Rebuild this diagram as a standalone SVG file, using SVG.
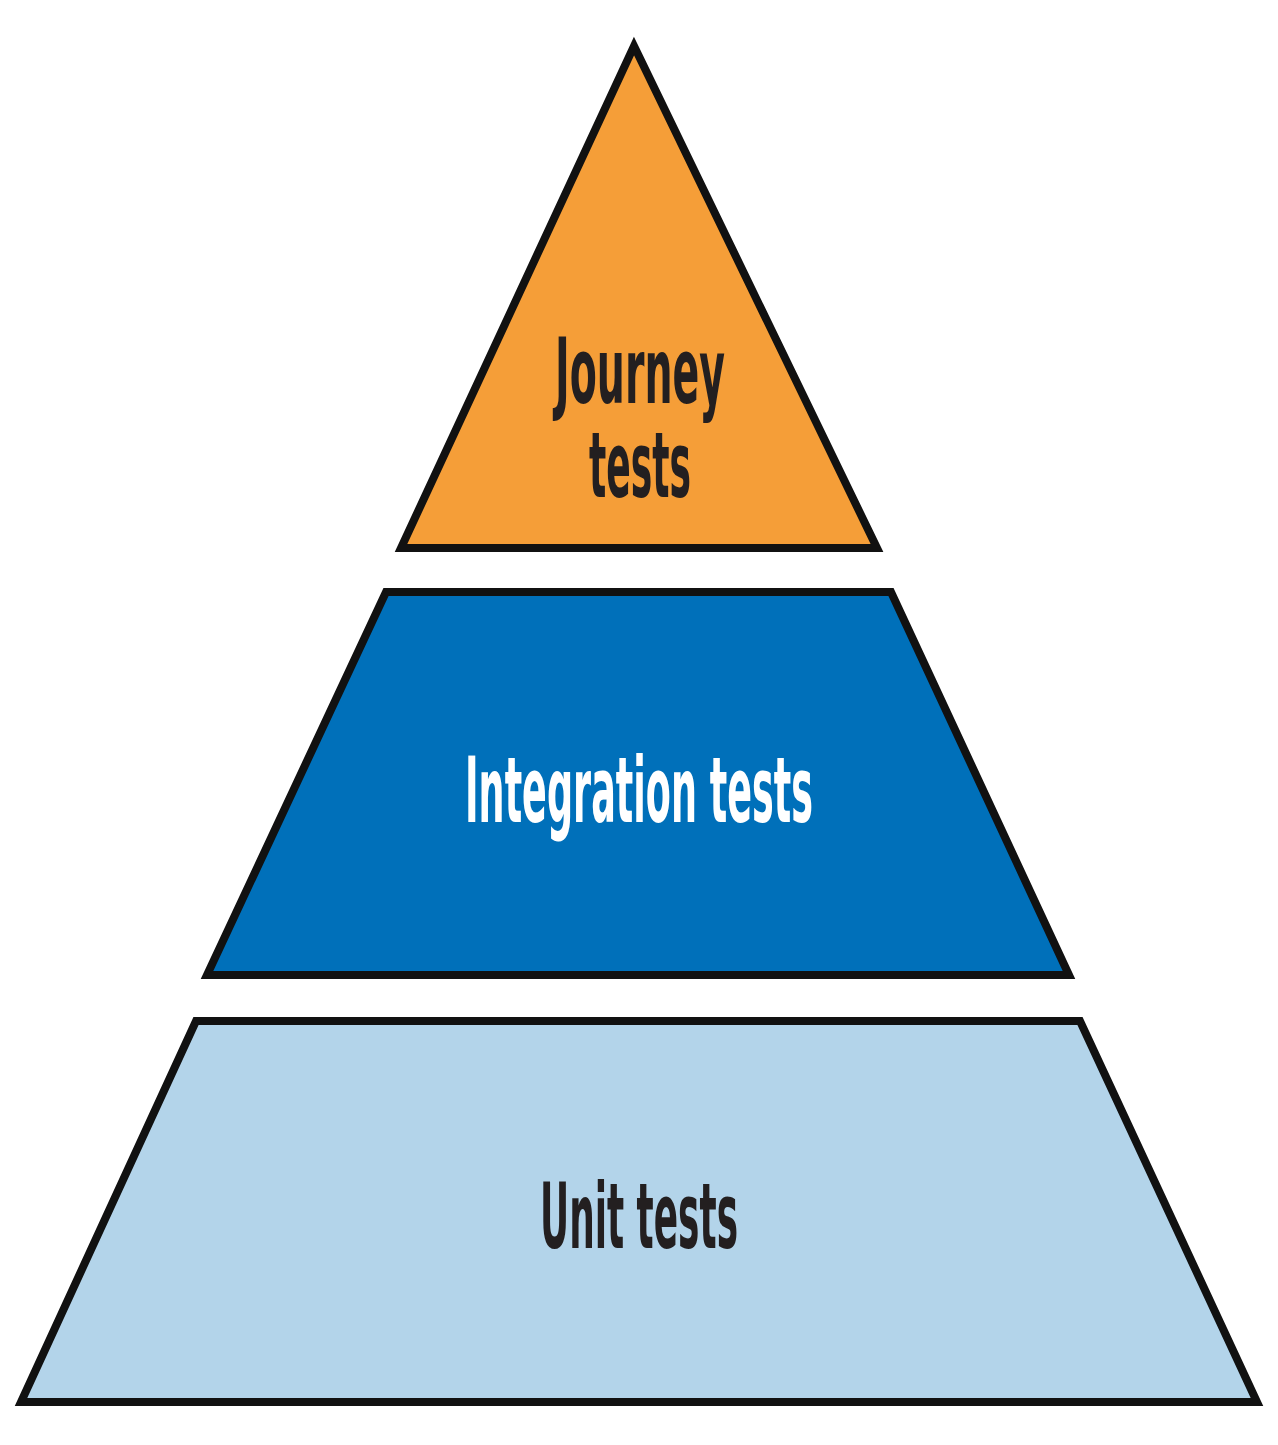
<svg xmlns="http://www.w3.org/2000/svg" width="1278" height="1445" viewBox="0 0 1278 1445">
<style>
.shape{stroke:#111;stroke-width:8;stroke-linejoin:miter}
.lbl{font-family:"DejaVu Sans Condensed","DejaVu Sans","Liberation Sans",sans-serif;font-weight:bold;font-size:90px;text-anchor:middle}
</style>
<rect width="1278" height="1445" fill="#fff"/>
<g id="journey">
<polygon class="shape" fill="#F59E38" points="634,46 877,548 401,548"/>
<text class="lbl" fill="#231F20" x="640" y="403" textLength="170" lengthAdjust="spacingAndGlyphs">Journey</text>
<text class="lbl" fill="#231F20" x="640" y="497" textLength="102" lengthAdjust="spacingAndGlyphs">tests</text>
</g>
<g id="integration">
<polygon class="shape" fill="#0070BA" points="386,592 891,592 1069,975 207,975"/>
<text class="lbl" fill="#fff" x="639" y="822" textLength="348" lengthAdjust="spacingAndGlyphs">Integration tests</text>
</g>
<g id="unit">
<polygon class="shape" fill="#B3D4EA" points="196,1021 1080,1021 1257,1402 21,1402"/>
<text class="lbl" fill="#231F20" x="639" y="1248" textLength="198" lengthAdjust="spacingAndGlyphs">Unit tests</text>
</g>
<g id="connectors"/>
</svg>
